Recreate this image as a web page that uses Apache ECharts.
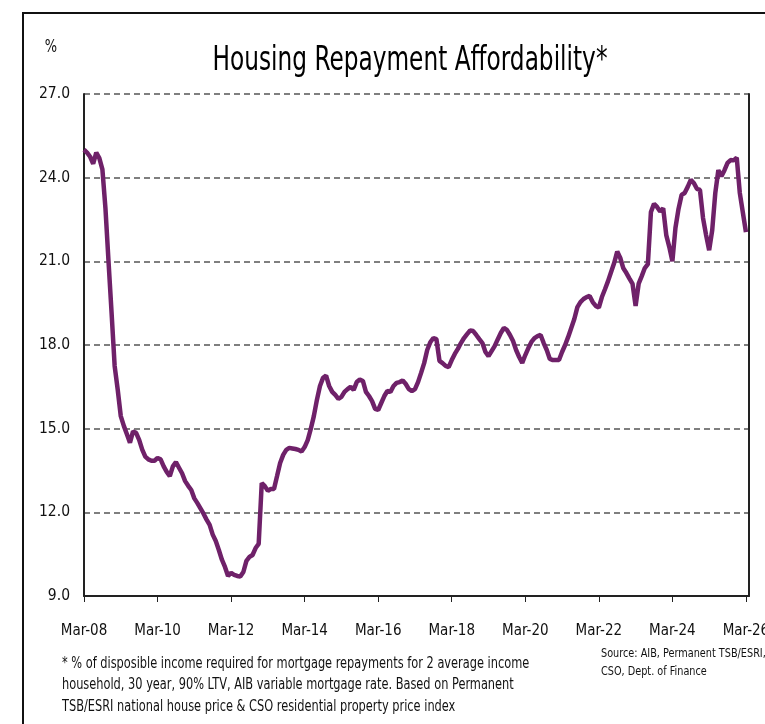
<!DOCTYPE html>
<html>
<head>
<meta charset="utf-8">
<title>Housing Repayment Affordability</title>
<script src="https://cdn.jsdelivr.net/npm/echarts@6/dist/echarts.min.js"></script>
<style>
  html, body { margin: 0; padding: 0; background: #fff; }
  #chart { width: 765px; height: 724px; }
</style>
</head>
<body>
<div id="chart"></div>
<script>
// % of disposable income needed for repayments, one value per month
var y2008 = [25.0, 24.9, 24.75, 24.5, 24.9, 24.7, 24.3, 22.9, 21.0, 19.15]; // Mar-Dec
var y2009 = [17.25, 16.4, 15.45, 15.1, 14.8, 14.5, 14.9, 14.85, 14.6, 14.25, 14.0, 13.9];
var y2010 = [13.85, 13.85, 13.95, 13.9, 13.65, 13.45, 13.3, 13.65, 13.8, 13.6, 13.4, 13.12];
var y2011 = [12.95, 12.8, 12.5, 12.33, 12.14, 11.95, 11.74, 11.55, 11.2, 10.97, 10.65, 10.3];
var y2012 = [10.04, 9.72, 9.83, 9.76, 9.72, 9.7, 9.86, 10.26, 10.4, 10.47, 10.72, 10.87];
var y2013 = [13.05, 12.94, 12.77, 12.84, 12.84, 13.3, 13.77, 14.06, 14.24, 14.31, 14.29, 14.27];
var y2014 = [14.24, 14.18, 14.34, 14.59, 14.99, 15.45, 16.03, 16.53, 16.82, 16.9, 16.53, 16.32];
var y2015 = [16.21, 16.07, 16.14, 16.32, 16.42, 16.5, 16.39, 16.67, 16.76, 16.71, 16.32, 16.17];
var y2016 = [15.99, 15.71, 15.67, 15.92, 16.17, 16.35, 16.32, 16.53, 16.64, 16.67, 16.73, 16.6];
var y2017 = [16.42, 16.35, 16.42, 16.67, 17.0, 17.35, 17.82, 18.1, 18.25, 18.21, 17.43, 17.35];
var y2018 = [17.25, 17.21, 17.46, 17.68, 17.86, 18.07, 18.25, 18.39, 18.52, 18.5, 18.36, 18.21];
var y2019 = [18.07, 17.75, 17.6, 17.78, 17.96, 18.2, 18.43, 18.61, 18.54, 18.36, 18.14, 17.82];
var y2020 = [17.57, 17.36, 17.64, 17.89, 18.11, 18.25, 18.32, 18.36, 18.07, 17.82, 17.5, 17.46];
var y2021 = [17.46, 17.46, 17.75, 18.0, 18.29, 18.61, 18.93, 19.36, 19.54, 19.65, 19.72, 19.76];
var y2022 = [19.54, 19.4, 19.34, 19.72, 20.0, 20.29, 20.62, 20.94, 21.35, 21.12, 20.75, 20.58];
var y2023 = [20.38, 20.19, 19.4, 20.2, 20.47, 20.76, 20.9, 22.77, 23.06, 22.95, 22.79, 22.9];
var y2024 = [21.94, 21.51, 21.0, 22.2, 22.88, 23.38, 23.45, 23.67, 23.92, 23.81, 23.6, 23.56];
var y2025 = [22.55, 21.94, 21.4, 22.12, 23.45, 24.27, 24.05, 24.27, 24.53, 24.63, 24.62, 24.72];
var y2026 = [23.45, 22.75, 22.05]; // Jan-Mar

var monthNames = ['Jan', 'Feb', 'Mar', 'Apr', 'May', 'Jun', 'Jul', 'Aug', 'Sep', 'Oct', 'Nov', 'Dec'];
var firstYear = 2008, firstMonth = 2;   // axis starts Mar-08
var lastLabel = 'Apr-26';               // axis runs a little past the last value
var yMin = 9, yMax = 27, yStep = 3;

var titleText = 'Housing Repayment Affordability*';
var unitText = '%';
var footnote = [
  '* % of disposible income required for mortgage repayments for 2 average income',
  'household, 30 year, 90% LTV, AIB variable mortgage rate. Based on Permanent',
  'TSB/ESRI national house price & CSO residential property price index'
];
var source = ['Source: AIB, Permanent TSB/ESRI,', 'CSO, Dept. of Finance'];

var values = [].concat(y2008, y2009, y2010, y2011, y2012, y2013, y2014, y2015, y2016,
  y2017, y2018, y2019, y2020, y2021, y2022, y2023, y2024, y2025, y2026);

var months = [];
var yr = firstYear, mo = firstMonth, lab = '';
while (lab !== lastLabel) {
  lab = monthNames[mo] + '-' + String(yr % 100).padStart(2, '0');
  months.push(lab);
  mo++;
  if (mo > 11) { mo = 0; yr++; }
}

// no condensed face is installed, so the free texts are squeezed with scaleX
var narrow = '"Liberation Sans Narrow", "DejaVu Sans Condensed", "Roboto", sans-serif';

var chart = echarts.init(document.getElementById('chart'));
var option = {
  animation: false,
  backgroundColor: '#fff',
  grid: { left: 84, right: 16, top: 94, bottom: 128, outerBoundsMode: 'none' },
  xAxis: {
    type: 'category',
    data: months,
    boundaryGap: false,
    axisLine: { lineStyle: { color: '#222', width: 2 } },
    axisTick: { interval: 23, length: 6, lineStyle: { color: '#222', width: 1 } },
    axisLabel: { interval: 23, margin: 28, fontSize: 15, color: '#111', fontFamily: narrow },
    splitLine: { show: false }
  },
  yAxis: [
    {
      type: 'value',
      min: yMin, max: yMax, interval: yStep,
      axisLine: { show: true, lineStyle: { color: '#222', width: 2 } },
      axisTick: { show: false },
      axisLabel: {
        margin: 14, fontSize: 15.5, color: '#111', fontFamily: narrow,
        formatter: function (v) { return v.toFixed(1); }
      },
      splitLine: { lineStyle: { color: '#555', width: 1.5, type: [6, 4] } }
    },
    {
      type: 'value',
      position: 'right',
      min: yMin, max: yMax, interval: yStep,
      axisLine: { show: true, lineStyle: { color: '#222', width: 2 } },
      axisTick: { show: false },
      axisLabel: { show: false },
      splitLine: { show: false }
    }
  ],
  series: [
    {
      type: 'line',
      data: values,
      showSymbol: false,
      symbol: 'none',
      lineStyle: { color: '#6f2169', width: 4.5 }
    }
  ],
  graphic: [
    {
      type: 'rect',
      shape: { x: 23, y: 13, width: 800, height: 800 },
      style: { fill: 'none', stroke: '#111', lineWidth: 2 }
    },
    {
      type: 'text', x: 410, y: 61, scaleX: 0.76,
      style: { text: titleText, fontSize: 34, fontFamily: narrow, fill: '#000', align: 'center', verticalAlign: 'middle' }
    },
    {
      type: 'text', x: 51, y: 47, scaleX: 0.8,
      style: { text: unitText, fontSize: 18, fontFamily: narrow, fill: '#111', align: 'center', verticalAlign: 'middle' }
    },
    {
      type: 'text', x: 62, y: 653, scaleX: 0.79,
      style: { text: footnote.join('\n'), fontSize: 16, lineHeight: 21.5, fontFamily: narrow, fill: '#111' }
    },
    {
      type: 'text', x: 601, y: 645, scaleX: 0.83,
      style: { text: source.join('\n'), fontSize: 13, lineHeight: 18, fontFamily: narrow, fill: '#111' }
    }
  ]
};
chart.setOption(option);
</script>
</body>
</html>
